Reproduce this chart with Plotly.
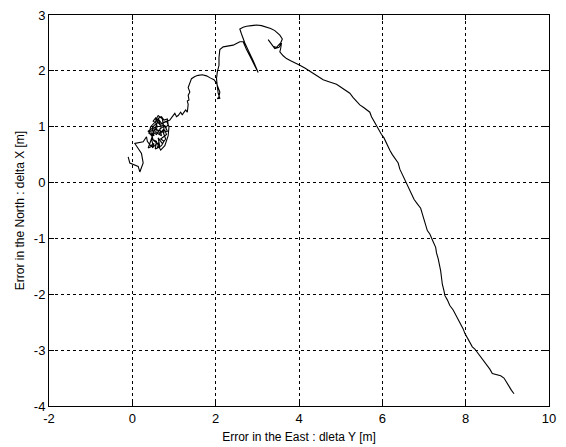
import plotly.graph_objects as go

# Position error track: east error (dleta Y) and north error (delta X), metres
east = [
    -0.10, -0.06, 0.14, 0.18, 0.26, 0.22, 0.06, 0.26, 0.34,
    0.36, 0.44, 0.52, 0.48, 0.56, 0.64, 0.60, 0.70, 0.76, 0.68, 0.76, 0.82, 0.78,
    0.70, 0.64, 0.58, 0.50, 0.46, 0.38, 0.46, 0.52, 0.58, 0.50, 0.56, 0.64, 0.68,
    0.74, 0.80, 0.86, 0.84, 0.76, 0.70, 0.64,
    0.42, 0.38, 0.50, 0.46, 0.58, 0.55, 0.66, 0.62, 0.72, 0.80, 0.74, 0.84, 0.78,
    0.66, 0.70, 0.56, 0.60, 0.48, 0.52, 0.40, 0.44, 0.54, 0.62, 0.70, 0.82, 0.88,
    0.86, 0.78, 0.68, 0.60, 0.50, 0.44, 0.58, 0.66, 0.76, 0.72, 0.62, 0.56, 0.66,
    0.78, 0.90,
    0.96, 1.02, 1.06, 1.10, 1.16, 1.20, 1.22, 1.28, 1.32, 1.34, 1.32, 1.36, 1.34,
    1.38, 1.34, 1.38, 1.42, 1.50, 1.58, 1.68, 1.78, 1.88, 1.96, 2.02, 2.06, 2.10,
    2.08, 2.04, 2.10, 2.06, 2.04, 2.02, 2.04, 2.08, 2.08, 2.10, 2.18, 2.26, 2.34,
    2.42, 2.50, 2.58, 2.66, 2.74, 2.84, 2.92, 3.00, 3.02, 2.98, 2.90, 2.80, 2.70,
    2.62, 2.58, 2.66, 2.74, 2.86, 2.98, 3.10, 3.22, 3.32, 3.42, 3.54, 3.60, 3.56,
    3.46, 3.38, 3.30, 3.26, 3.32, 3.42, 3.52, 3.58, 3.56, 3.54, 3.62, 3.70, 3.80,
    3.92, 4.02, 4.14, 4.26, 4.36, 4.46, 4.58, 4.70, 4.80, 4.90, 4.98, 5.06, 5.14,
    5.22, 5.30, 5.38, 5.46, 5.56, 5.64, 5.70, 5.74, 5.80, 5.86, 5.94, 5.98, 6.04,
    6.10, 6.18, 6.24, 6.30, 6.38, 6.42, 6.48, 6.54, 6.60, 6.66, 6.70, 6.76, 6.84,
    6.92, 6.96, 7.00, 7.04, 7.08, 7.14, 7.18, 7.22, 7.28, 7.30, 7.34, 7.38, 7.40,
    7.42, 7.44, 7.48, 7.50, 7.56, 7.62, 7.70, 7.76, 7.82, 7.88, 7.94, 7.98, 8.04,
    8.10, 8.16, 8.22, 8.26, 8.30, 8.38, 8.46, 8.52, 8.58, 8.64, 8.74, 8.84, 8.92,
    8.98, 9.06, 9.10, 9.16,
]
north = [
    0.46, 0.35, 0.29, 0.19, 0.35, 0.52, 0.70, 0.73, 0.82,
    0.74, 0.66, 0.70, 0.62, 0.68, 0.72, 0.62, 0.66, 0.74, 0.78, 0.82, 0.86, 0.94,
    0.90, 0.94, 0.86, 0.90, 0.84, 0.92, 0.96, 1.02, 1.06, 1.10, 1.16, 1.10, 1.00,
    1.04, 0.98, 1.04, 1.14, 1.12, 1.18, 1.16,
    0.70, 0.62, 0.66, 0.78, 0.74, 0.60, 0.64, 0.80, 0.70, 0.78, 0.90, 0.92, 1.02,
    0.96, 0.84, 0.90, 1.02, 0.96, 0.84, 0.88, 1.00, 1.08, 1.14, 1.06, 1.10, 1.00,
    0.84, 0.66, 0.58, 0.70, 0.76, 0.92, 0.96, 0.88, 0.96, 1.14, 1.20, 1.12, 1.04,
    1.08, 1.12,
    1.18, 1.24, 1.18, 1.20, 1.26, 1.21, 1.24, 1.30, 1.26, 1.40, 1.46, 1.48, 1.56,
    1.62, 1.70, 1.78, 1.86, 1.90, 1.92, 1.93, 1.91, 1.87, 1.84, 1.78, 1.70, 1.62,
    1.54, 1.50, 1.51, 1.60, 1.72, 1.86, 1.98, 2.10, 2.24, 2.38, 2.43, 2.44, 2.46,
    2.46, 2.49, 2.52, 2.52, 2.38, 2.24, 2.12, 2.02, 1.97, 2.04, 2.18, 2.34, 2.50,
    2.66, 2.75, 2.78, 2.80, 2.81, 2.82, 2.81, 2.79, 2.76, 2.72, 2.64, 2.57, 2.50,
    2.42, 2.44, 2.52, 2.56, 2.48, 2.40, 2.42, 2.50, 2.40, 2.34, 2.27, 2.22, 2.18,
    2.14, 2.10, 2.05, 1.99, 1.95, 1.90, 1.84, 1.81, 1.78, 1.76, 1.72, 1.68, 1.64,
    1.60, 1.52, 1.46, 1.39, 1.34, 1.30, 1.26, 1.18, 1.10, 1.00, 0.92, 0.86, 0.80,
    0.70, 0.58, 0.50, 0.44, 0.35, 0.24, 0.14, 0.04, -0.06, -0.14, -0.22, -0.30, -0.38,
    -0.46, -0.56, -0.66, -0.76, -0.86, -0.92, -0.98, -1.06, -1.16, -1.26, -1.36, -1.48, -1.58,
    -1.70, -1.82, -1.94, -2.02, -2.10, -2.20, -2.28, -2.36, -2.44, -2.52, -2.62, -2.70, -2.78,
    -2.88, -2.94, -2.98, -3.02, -3.06, -3.12, -3.20, -3.26, -3.34, -3.42, -3.44, -3.46, -3.50,
    -3.58, -3.66, -3.72, -3.78,
]

x_ticks = [-2, 0, 2, 4, 6, 8, 10]
y_ticks = [-4, -3, -2, -1, 0, 1, 2, 3]

FONT = "Liberation Sans, Arial, sans-serif"

fig = go.Figure()
fig.add_trace(go.Scatter(
    x=east, y=north, mode="lines",
    line=dict(color="black", width=1.1),
    showlegend=False, hoverinfo="skip",
))

axis_common = dict(
    showline=True, linecolor="black", linewidth=1, mirror="ticks",
    ticks="inside", ticklen=5, tickcolor="black",
    showgrid=True, gridcolor="black", gridwidth=1, griddash="3px,3px",
    zeroline=False, automargin=False,
    tickfont=dict(family=FONT, size=13, color="black"),
)

fig.update_xaxes(
    range=[-2, 10], tickvals=x_ticks, ticktext=[str(v) for v in x_ticks],
    ticklabelstandoff=0,
    title=dict(text="Error in the East : dleta Y [m]", standoff=8,
               font=dict(family=FONT, size=12, color="black")),
    **axis_common,
)
fig.update_yaxes(
    range=[-4, 3], tickvals=y_ticks, ticktext=[str(v) for v in y_ticks],
    title=dict(text="Error in the North : delta X [m]", standoff=6,
               font=dict(family=FONT, size=12, color="black")),
    **axis_common,
)

fig.update_layout(
    width=566, height=447,
    margin=dict(l=49, r=17, t=15, b=41),
    paper_bgcolor="white", plot_bgcolor="white",
)

fig.write_html("out.html")
